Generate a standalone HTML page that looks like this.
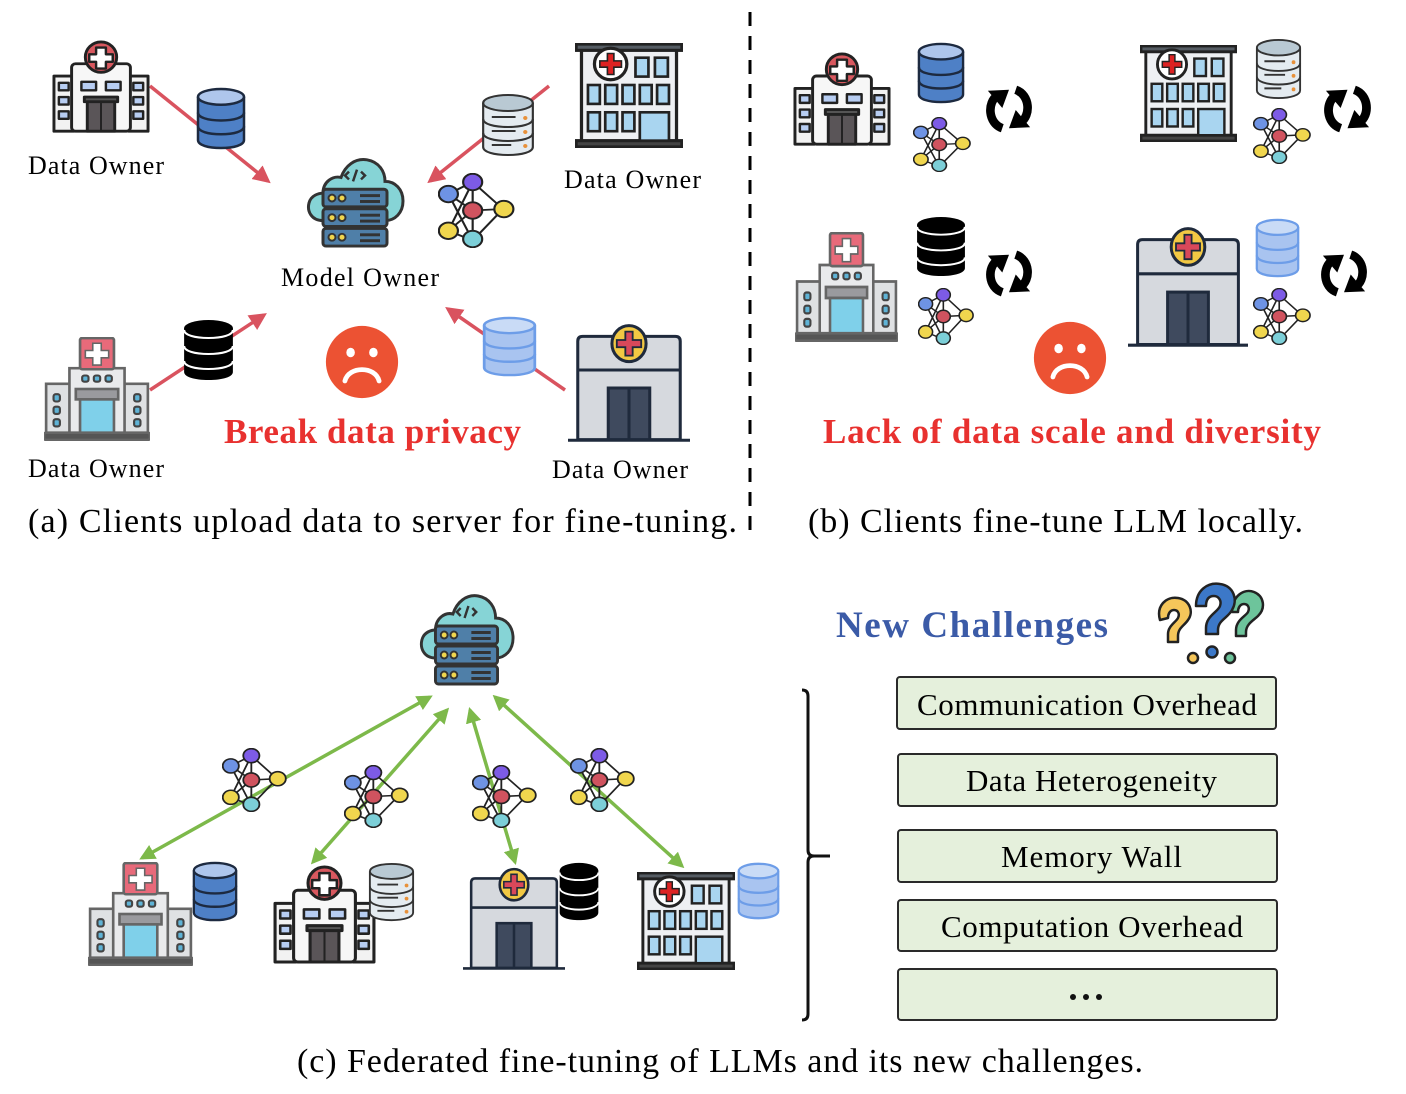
<!DOCTYPE html>
<html><head><meta charset="utf-8"><style>
html,body{margin:0;padding:0;background:#fff;}
svg{display:block;}
text{font-family:"Liberation Serif",serif;}
</style></head><body>
<svg width="1406" height="1094" viewBox="0 0 1406 1094" xmlns="http://www.w3.org/2000/svg">
<defs>
<symbol id="hospA" viewBox="0 0 100 100" preserveAspectRatio="none">
 <g stroke="#222" stroke-width="3" stroke-linejoin="round">
  <rect x="2" y="38" width="20" height="58" fill="#f2f2f2"/>
  <rect x="78" y="38" width="20" height="58" fill="#f2f2f2"/>
  <rect x="20" y="25" width="60" height="71" rx="4" fill="#f7f7f7"/>
  <circle cx="50" cy="18" r="16" fill="#d9585f"/>
  <path d="M45 8h10v7h7v8h-7v7h-10v-7h-7v-8h7z" fill="#fff" stroke-width="2.5"/>
  <g fill="#b7cdf2" stroke-width="2.5">
   <rect x="7" y="45" width="10" height="8"/><rect x="7" y="60" width="10" height="8"/><rect x="7" y="75" width="10" height="8"/>
   <rect x="83" y="45" width="10" height="8"/><rect x="83" y="60" width="10" height="8"/><rect x="83" y="75" width="10" height="8"/>
   <rect x="30" y="44" width="15" height="9"/><rect x="55" y="44" width="15" height="9"/>
  </g>
  <rect x="33" y="60" width="34" height="5" fill="#555"/>
  <rect x="36" y="65" width="28" height="31" fill="#5a5558"/>
 </g>
 <line x1="50" y1="66" x2="50" y2="96" stroke="#222" stroke-width="2"/>
</symbol>
<symbol id="hospB" viewBox="0 0 100 100" preserveAspectRatio="none">
 <g stroke="#222" stroke-width="3">
  <rect x="6" y="5" width="88" height="89" fill="#eef0f3"/>
  <rect x="1" y="1" width="98" height="6" fill="#555c63"/>
  <rect x="1" y="93" width="98" height="6" fill="#444"/>
  <circle cx="33" cy="20" r="15" fill="#fff"/>
  <path d="M30 10h6v7h7v6h-7v7h-6v-7h-7v-6h7z" fill="#d22" stroke-width="1.5"/>
  <g fill="#a9d5f0" stroke-width="2.5">
   <rect x="56" y="14" width="12" height="18"/><rect x="74" y="14" width="12" height="18"/>
   <rect x="12" y="40" width="11" height="18"/><rect x="28" y="40" width="11" height="18"/><rect x="44" y="40" width="11" height="18"/><rect x="60" y="40" width="11" height="18"/><rect x="76" y="40" width="11" height="18"/>
   <rect x="12" y="66" width="11" height="18"/><rect x="28" y="66" width="11" height="18"/><rect x="44" y="66" width="11" height="18"/>
   <rect x="60" y="66" width="27" height="27"/>
  </g>
 </g>
</symbol>
<symbol id="hospC" viewBox="0 0 100 100" preserveAspectRatio="none">
 <g stroke="#666" stroke-width="2.5">
  <rect x="2" y="45" width="24" height="48" fill="#dfe1e3"/>
  <rect x="74" y="45" width="24" height="48" fill="#dfe1e3"/>
  <rect x="24" y="30" width="52" height="63" fill="#e9eaec"/>
  <rect x="34" y="1" width="32" height="30" rx="2" fill="#e86a7a"/>
  <path d="M46 6h8v7h7v7h-7v7h-8v-7h-7v-7h7z" fill="#fff" stroke-width="1.5"/>
  <g fill="#5fb3d6" stroke="#444" stroke-width="2"><rect x="36" y="37" width="6" height="6" rx="2"/><rect x="47" y="37" width="6" height="6" rx="2"/><rect x="58" y="37" width="6" height="6" rx="2"/>
   <rect x="9" y="55" width="6" height="7" rx="2"/><rect x="9" y="67" width="6" height="7" rx="2"/><rect x="9" y="79" width="6" height="7" rx="2"/>
   <rect x="85" y="55" width="6" height="7" rx="2"/><rect x="85" y="67" width="6" height="7" rx="2"/><rect x="85" y="79" width="6" height="7" rx="2"/></g>
  <rect x="30" y="50" width="40" height="10" fill="#9a9a9e"/>
  <rect x="34" y="60" width="32" height="33" fill="#7fd0ea"/>
  <rect x="0" y="92" width="100" height="7" rx="2" fill="#555"/>
 </g>
</symbol>
<symbol id="hospD" viewBox="0 0 100 100" preserveAspectRatio="none">
 <g stroke="#1f2a3c" stroke-width="2.5">
  <path d="M8 98V16q0-4 4-4h76q4 0 4 4v82z" fill="#d6d9de"/>
  <line x1="8" y1="40" x2="92" y2="40"/>
  <rect x="33" y="55" width="34" height="43" fill="#3f4a5e"/>
  <line x1="50" y1="55" x2="50" y2="98"/>
  <ellipse cx="50" cy="18" rx="14" ry="15" fill="#f2c843"/>
  <path d="M47 8h6v7h7v6h-7v7h-6v-7h-7v-6h7z" fill="#d9485a" stroke-width="1.5"/>
  <line x1="0" y1="98.5" x2="100" y2="98.5"/>
 </g>
</symbol>
<symbol id="dbBlue" viewBox="0 0 50 64" preserveAspectRatio="none">
 <g stroke="#1d2a40" stroke-width="2.5">
  <path d="M2 10v44c0 5 10 8 23 8s23-3 23-8V10" fill="#4e80c6"/>
  <ellipse cx="25" cy="10" rx="23" ry="8" fill="#aec6ec"/>
  <path d="M2 26c0 5 10 8 23 8s23-3 23-8M2 40c0 5 10 8 23 8s23-3 23-8" fill="none"/>
 </g>
</symbol>
<symbol id="dbGrey" viewBox="0 0 50 64" preserveAspectRatio="none">
 <g stroke="#333" stroke-width="2">
  <path d="M2 10v44c0 5 10 8 23 8s23-3 23-8V10" fill="#e4ebf0"/>
  <ellipse cx="25" cy="10" rx="23" ry="8" fill="#b9c9d3"/>
  <path d="M2 26c0 5 10 8 23 8s23-3 23-8M2 40c0 5 10 8 23 8s23-3 23-8" fill="none"/>
  <path d="M10 24h22M10 38h22M10 52h18" fill="none"/>
 </g>
 <g fill="#e8913a"><circle cx="41" cy="25" r="2"/><circle cx="41" cy="39" r="2"/><circle cx="41" cy="53" r="2"/></g>
</symbol>
<symbol id="dbBlack" viewBox="0 0 50 64" preserveAspectRatio="none">
 <path d="M2 10v44c0 5 10 8 23 8s23-3 23-8V10" fill="#000"/>
 <ellipse cx="25" cy="10" rx="23" ry="8" fill="#000"/>
 <path d="M2 12c0 5 10 8 23 8s23-3 23-8M2 28c0 5 10 8 23 8s23-3 23-8M2 43c0 5 10 8 23 8s23-3 23-8" fill="none" stroke="#fff" stroke-width="2"/>
</symbol>
<symbol id="dbLight" viewBox="0 0 50 64" preserveAspectRatio="none">
 <g stroke="#6d9de8" stroke-width="2.5">
  <path d="M2 10v44c0 5 10 8 23 8s23-3 23-8V10" fill="#a9c4f0"/>
  <ellipse cx="25" cy="10" rx="23" ry="8" fill="#c9dbf6"/>
  <path d="M2 26c0 5 10 8 23 8s23-3 23-8M2 40c0 5 10 8 23 8s23-3 23-8" fill="none"/>
 </g>
</symbol>
<symbol id="net" viewBox="0 0 90 100" preserveAspectRatio="none">
 <g stroke="#222" stroke-width="2.5">
  <path d="M12 28L40 12M12 28L40 50M12 28L40 90M40 12L75 48M40 12L40 50M40 12L12 77M40 50L75 48M40 50L40 90M75 48L40 90M12 77L40 90M12 77L40 50" fill="none"/>
  <circle cx="12" cy="28" r="11" fill="#6e93e4"/>
  <circle cx="40" cy="12" r="11" fill="#7d5be6"/>
  <circle cx="40" cy="50" r="11" fill="#d0535f"/>
  <circle cx="76" cy="48" r="11" fill="#f0d64e"/>
  <circle cx="12" cy="77" r="11" fill="#f0d64e"/>
  <circle cx="40" cy="88" r="11" fill="#7ccfd8"/>
 </g>
</symbol>
<symbol id="server" viewBox="0 0 100 100" preserveAspectRatio="none">
 <g stroke="#333" stroke-width="3">
  <path d="M18 70c-12 0-16-10-14-18 2-8 10-10 14-10 0-12 10-18 18-16 4-12 14-20 26-18 12 2 18 12 18 22 10 0 18 8 18 20s-8 20-18 20z" fill="#86d4d6"/>
  <g fill="#4f7fa8">
   <rect x="18" y="38" width="64" height="18" rx="3"/>
   <rect x="18" y="58" width="64" height="18" rx="3"/>
   <rect x="18" y="78" width="64" height="18" rx="3"/>
  </g>
  <path d="M44 20l-4 4 4 4M56 20l4 4-4 4M52 18l-4 12" fill="none" stroke-width="2.5"/>
 </g>
 <g fill="#f0d64e" stroke="#333" stroke-width="2"><circle cx="27" cy="47" r="3.5"/><circle cx="37" cy="47" r="3.5"/><circle cx="27" cy="67" r="3.5"/><circle cx="37" cy="67" r="3.5"/><circle cx="27" cy="87" r="3.5"/><circle cx="37" cy="87" r="3.5"/></g>
 <g fill="#333"><rect x="55" y="43" width="20" height="3"/><rect x="55" y="49" width="20" height="3"/><rect x="55" y="63" width="20" height="3"/><rect x="55" y="69" width="20" height="3"/><rect x="55" y="83" width="20" height="3"/><rect x="55" y="89" width="20" height="3"/></g>
</symbol>
<symbol id="refresh" viewBox="0 0 50 50" preserveAspectRatio="none">
 <g fill="none" stroke="#000" stroke-width="9">
  <path d="M18 45C3 40 2 18 13 11"/>
  <path d="M32 5C47 10 48 32 37 39"/>
 </g>
 <path d="M3 6L25 5 18 24z" fill="#000"/>
 <path d="M47 44L25 45 32 26z" fill="#000"/>
</symbol>
<symbol id="sad" viewBox="0 0 80 80">
 <circle cx="40" cy="40" r="38" fill="#ec5233"/>
 <ellipse cx="28" cy="30" rx="4.5" ry="5" fill="#fff"/><ellipse cx="52" cy="30" rx="4.5" ry="5" fill="#fff"/>
 <path d="M22 60C26 44 54 44 58 60" fill="none" stroke="#fff" stroke-width="5" stroke-linecap="round"/>
</symbol>
<marker id="ar" viewBox="0 0 10 10" refX="8" refY="5" markerWidth="5" markerHeight="5" orient="auto"><path d="M0 0L10 5 0 10z" fill="#d9535f"/></marker>
<marker id="ag" viewBox="0 0 10 10" refX="8" refY="5" markerWidth="4.5" markerHeight="4.5" orient="auto-start-reverse"><path d="M0 0L10 5 0 10z" fill="#7db94a"/></marker>
</defs>

<!-- (a) -->
<g stroke="#d9535f" stroke-width="3.5" marker-end="url(#ar)">
 <line x1="150" y1="86" x2="268" y2="181"/>
 <line x1="549" y1="86" x2="430" y2="181"/>
 <line x1="150" y1="390" x2="264" y2="315"/>
 <line x1="565" y1="390" x2="448" y2="309"/>
</g>
<use href="#hospA" x="52" y="40" width="98" height="95"/>
<use href="#dbBlue" x="196" y="87" width="50" height="63"/>
<use href="#server" x="305" y="152" width="100" height="98"/>
<use href="#hospB" x="575" y="43" width="108" height="105"/>
<use href="#dbGrey" x="481" y="93" width="54" height="64"/>
<use href="#net" x="438" y="173" width="78" height="75"/>
<use href="#hospC" x="44" y="337" width="106" height="104"/>
<use href="#dbBlack" x="182" y="318" width="53" height="64"/>
<use href="#sad" x="324" y="324" width="76" height="76"/>
<use href="#dbLight" x="482" y="316" width="55" height="61"/>
<use href="#hospD" x="568" y="322" width="122" height="120"/>
<text x="28" y="174" font-size="26" textLength="136">Data Owner</text>
<text x="564" y="188" font-size="26" textLength="137">Data Owner</text>
<text x="281" y="286" font-size="26" textLength="158">Model Owner</text>
<text x="28" y="477" font-size="26" textLength="136">Data Owner</text>
<text x="552" y="478" font-size="26" textLength="136">Data Owner</text>
<text x="224" y="443" font-size="35" font-weight="bold" fill="#e8312f" textLength="297">Break data privacy</text>
<text x="28" y="532" font-size="34" textLength="709">(a)   Clients upload data to server for fine-tuning.</text>
<line x1="750" y1="12" x2="750" y2="540" stroke="#000" stroke-width="3" stroke-dasharray="14,10"/>

<!-- (b) -->
<use href="#hospA" x="793" y="52" width="98" height="96"/>
<use href="#dbBlue" x="917" y="42" width="48" height="62"/>
<use href="#net" x="913" y="117" width="59" height="55"/>
<use href="#refresh" x="985" y="85" width="48" height="48"/>
<use href="#hospB" x="1140" y="45" width="97" height="97"/>
<use href="#dbGrey" x="1255" y="38" width="47" height="62"/>
<use href="#net" x="1253" y="108" width="59" height="56"/>
<use href="#refresh" x="1323" y="85" width="49" height="48"/>
<use href="#hospC" x="795" y="232" width="103" height="110"/>
<use href="#dbBlack" x="915" y="215" width="52" height="63"/>
<use href="#net" x="918" y="288" width="57" height="57"/>
<use href="#refresh" x="985" y="250" width="48" height="47"/>
<use href="#hospD" x="1128" y="225" width="120" height="122"/>
<use href="#dbLight" x="1255" y="218" width="45" height="60"/>
<use href="#net" x="1253" y="288" width="59" height="57"/>
<use href="#refresh" x="1320" y="250" width="48" height="47"/>
<use href="#sad" x="1032" y="320" width="76" height="76"/>
<text x="823" y="443" font-size="35" font-weight="bold" fill="#e8312f" textLength="498">Lack of  data scale and diversity</text>
<text x="808" y="532" font-size="34" textLength="495">(b) Clients fine-tune LLM locally.</text>

<!-- (c) -->
<g stroke="#7db94a" stroke-width="3.5" marker-start="url(#ag)" marker-end="url(#ag)">
 <line x1="430" y1="697" x2="142" y2="858"/>
 <line x1="447" y1="710" x2="313" y2="862"/>
 <line x1="470" y1="710" x2="515" y2="862"/>
 <line x1="495" y1="697" x2="682" y2="866"/>
</g>
<use href="#server" x="418" y="588" width="97" height="100"/>
<use href="#net" x="222" y="748" width="66" height="64"/>
<use href="#net" x="344" y="765" width="66" height="63"/>
<use href="#net" x="472" y="765" width="66" height="63"/>
<use href="#net" x="570" y="748" width="66" height="64"/>
<use href="#hospC" x="88" y="862" width="105" height="104"/>
<use href="#dbBlue" x="192" y="861" width="46" height="61"/>
<use href="#hospA" x="273" y="865" width="103" height="101"/>
<use href="#dbGrey" x="368" y="862" width="47" height="60"/>
<use href="#hospD" x="463" y="866" width="102" height="104"/>
<use href="#dbBlack" x="558" y="861" width="42" height="61"/>
<use href="#hospB" x="637" y="872" width="98" height="98"/>
<use href="#dbLight" x="737" y="862" width="43" height="58"/>

<path d="M802 690q6 0 6 6v154q0 6 6 6h16M814 856q-6 0-6 6v152q0 6-6 6" fill="none" stroke="#111" stroke-width="3"/>

<text x="836" y="637" font-size="37" font-weight="bold" fill="#3b5ba7" textLength="272">New Challenges</text>
<g stroke="#222" stroke-width="2.5" stroke-linejoin="round">
 <path d="M1160 620c-4-14 6-24 18-22 12 2 16 14 10 22-4 6-10 8-10 16v6h-10v-8c0-8 8-12 10-16 2-4 0-8-4-8s-6 4-6 8z" fill="#f5c65a"/>
 <path d="M1232 612c0-16 12-24 22-20 10 4 12 16 4 24-4 4-12 8-12 16v4h-10v-6c0-10 10-14 12-18 2-4 0-8-4-8s-6 4-6 8z" fill="#6dc49b"/>
 <path d="M1196 606c0-16 12-24 24-22 14 2 18 16 12 26-4 8-14 10-14 20v4h-12v-6c0-12 12-16 14-22 2-6-2-10-6-10-6 0-8 4-8 10z" fill="#3c78c8"/>
 <circle cx="1193" cy="658" r="5" fill="#f5c65a"/><circle cx="1212" cy="652" r="5.5" fill="#3c78c8"/><circle cx="1230" cy="658" r="5" fill="#6dc49b"/>
</g>
<g fill="#e5f0dc" stroke="#2a2a2a" stroke-width="2">
 <rect x="897" y="677" width="379" height="52" rx="3"/>
 <rect x="898" y="754" width="379" height="52" rx="3"/>
 <rect x="898" y="830" width="379" height="52" rx="3"/>
 <rect x="898" y="900" width="379" height="51" rx="3"/>
 <rect x="898" y="969" width="379" height="51" rx="3"/>
</g>
<g font-size="31">
 <text x="917" y="715" textLength="340">Communication Overhead</text>
 <text x="966" y="791" textLength="251">Data Heterogeneity</text>
 <text x="1001" y="867" textLength="181">Memory Wall</text>
 <text x="941" y="937" textLength="302">Computation Overhead</text>
</g>
<g fill="#111"><circle cx="1073" cy="997" r="3"/><circle cx="1086" cy="997" r="3"/><circle cx="1099" cy="997" r="3"/></g>
<text x="720" y="1072" font-size="34" text-anchor="middle" textLength="846">(c) Federated fine-tuning of LLMs and its new challenges.</text>
</svg>
</body></html>
